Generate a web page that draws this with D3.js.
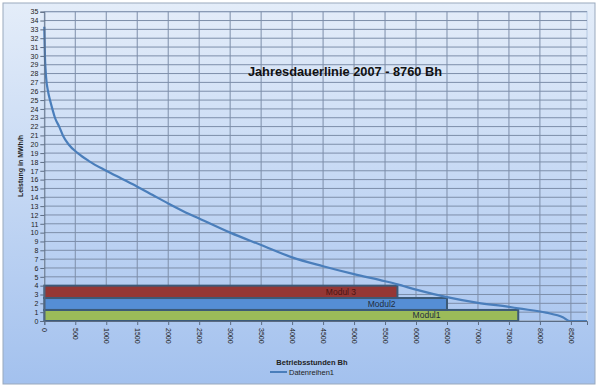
<!DOCTYPE html>
<html>
<head>
<meta charset="utf-8">
<title>Jahresdauerlinie 2007</title>
<style>
  body { margin: 0; background: #fff; }
  svg { display: block; font-family: 'Liberation Sans', Arial, sans-serif; }
  .grid line { stroke: #7d8ea9; stroke-width: 1; }
  .tick text { font-size: 7px; fill: #222; }
</style>
</head>
<body>
<script src="https://d3js.org/d3.v7.min.js"></script>
<script>
// load duration curve (hours, MW)
var hours = [0, 10, 20, 30, 60, 92, 130, 172, 240, 300, 390, 540, 720, 1000, 1250, 1500, 1750, 2000, 2250, 2500, 3000, 3500, 4000, 4500, 5000, 5500, 5700, 6000, 6500, 7000, 7500, 7650, 8100, 8370, 8480, 8760];
var power = [33.3, 30, 28.5, 27.5, 26, 25, 24, 23, 22, 21, 20, 19, 18.1, 17.0, 16.1, 15.2, 14.25, 13.3, 12.4, 11.6, 10.0, 8.6, 7.2, 6.2, 5.3, 4.5, 4.15, 3.55, 2.7, 2.05, 1.6, 1.43, 0.94, 0.42, 0, 0];

// modules as bars
var modules = ["Modul1", "Modul2", "Modul 3"];
var modEnd = [7650, 6500, 5700];
var modLow = [0, 1.25, 2.6];
var modHigh = [1.25, 2.6, 4];
var modColor = ["#9bbb59", "#558ed5", "#953735"];
var modLabelX = [5945, 5220, 4545];

var xTicks = d3.range(0, 8501, 500);
var yTicks = d3.range(0, 36, 1);

var width = 600, height = 389;
var svg = d3.select("body").append("svg")
    .attr("width", width)
    .attr("height", height);

var defs = svg.append("defs");
var grad = defs.append("linearGradient").attr("id", "bg")
    .attr("x1", 0).attr("y1", 0).attr("x2", 0).attr("y2", 1);
grad.append("stop").attr("offset", "0%").attr("stop-color", "#e4edf9");
grad.append("stop").attr("offset", "100%").attr("stop-color", "#a3c1ee");

// chart area
svg.append("rect")
    .attr("x", 3).attr("y", 3)
    .attr("width", 592).attr("height", 381)
    .attr("fill", "url(#bg)")
    .attr("stroke", "#9aa9bd").attr("stroke-width", 1);

var x = d3.scaleLinear().domain([0, 8760]).range([44.3, 587]);
var y = d3.scaleLinear().domain([0, 35]).range([321, 11.7]);

// plot area border
svg.append("rect")
    .attr("x", x(0)).attr("y", y(35))
    .attr("width", x(8760) - x(0)).attr("height", y(0) - y(35))
    .attr("fill", "none")
    .attr("stroke", "#c4d4ea").attr("stroke-width", 1.5);

// gridlines
var grid = svg.append("g").attr("class", "grid");
grid.selectAll("line.h").data(yTicks).enter().append("line")
    .attr("class", "h")
    .attr("x1", x(0)).attr("x2", x(8760))
    .attr("y1", function(d) { return y(d); })
    .attr("y2", function(d) { return y(d); });
grid.selectAll("line.v").data(xTicks.slice(1)).enter().append("line")
    .attr("class", "v")
    .attr("y1", y(0)).attr("y2", y(35))
    .attr("x1", function(d) { return x(d); })
    .attr("x2", function(d) { return x(d); });

// module bars
var bars = svg.append("g");
bars.selectAll("rect").data(modules).enter().append("rect")
    .attr("x", x(0))
    .attr("y", function(d, i) { return y(modHigh[i]); })
    .attr("width", function(d, i) { return x(modEnd[i]) - x(0); })
    .attr("height", function(d, i) { return y(modLow[i]) - y(modHigh[i]); })
    .attr("fill", function(d, i) { return modColor[i]; })
    .attr("stroke", "#3c5a78")
    .attr("stroke-width", 2);

bars.selectAll("text").data(modules).enter().append("text")
    .attr("x", function(d, i) { return x(modLabelX[i]); })
    .attr("y", function(d, i) { return y((modLow[i] + modHigh[i]) / 2) + 3; })
    .attr("font-size", 8.5)
    .attr("fill", function(d, i) { return i == 2 ? "#4a1412" : "#1f2d3d"; })
    .text(function(d) { return d; });

// curve
var line = d3.line()
    .x(function(d, i) { return x(hours[i]); })
    .y(function(d) { return y(d); })
    .curve(d3.curveMonotoneX);
svg.append("path")
    .datum(power)
    .attr("d", line)
    .attr("fill", "none")
    .attr("stroke", "#4a7ebb")
    .attr("stroke-width", 2.2);

// axes
var yAxis = svg.append("g")
    .attr("transform", "translate(" + x(0) + ",0)")
    .call(d3.axisLeft(y).tickValues(yTicks).tickSize(4).tickPadding(2));
var xAxis = svg.append("g")
    .attr("transform", "translate(0," + y(0) + ")")
    .call(d3.axisBottom(x).tickValues(xTicks).tickSize(4).tickFormat(d3.format("d")));
xAxis.selectAll("text")
    .attr("transform", "rotate(90)")
    .attr("text-anchor", "start")
    .attr("x", 7).attr("y", 0).attr("dy", "0.35em");
[yAxis, xAxis].forEach(function(a) {
  a.select(".domain").attr("stroke", "#5b6b82");
  a.selectAll(".tick line").attr("stroke", "#5b6b82");
});

// title
svg.append("text")
    .attr("x", 345).attr("y", 76)
    .attr("text-anchor", "middle")
    .attr("font-size", 12.8)
    .attr("font-weight", "bold")
    .attr("fill", "#111")
    .text("Jahresdauerlinie 2007 - 8760 Bh");

// axis titles
svg.append("text")
    .attr("transform", "translate(23,166) rotate(-90)")
    .attr("text-anchor", "middle")
    .attr("font-size", 7)
    .attr("font-weight", "bold")
    .attr("fill", "#222")
    .text("Leistung in MWh/h");
svg.append("text")
    .attr("x", 312).attr("y", 365)
    .attr("text-anchor", "middle")
    .attr("font-size", 7.5)
    .attr("font-weight", "bold")
    .attr("fill", "#222")
    .text("Betriebsstunden Bh");

// legend
svg.append("line")
    .attr("x1", 270).attr("x2", 287)
    .attr("y1", 372).attr("y2", 372)
    .attr("stroke", "#4a7ebb").attr("stroke-width", 2);
svg.append("text")
    .attr("x", 289).attr("y", 375)
    .attr("font-size", 7.5)
    .attr("fill", "#222")
    .text("Datenreihen1");
</script>
</body>
</html>
